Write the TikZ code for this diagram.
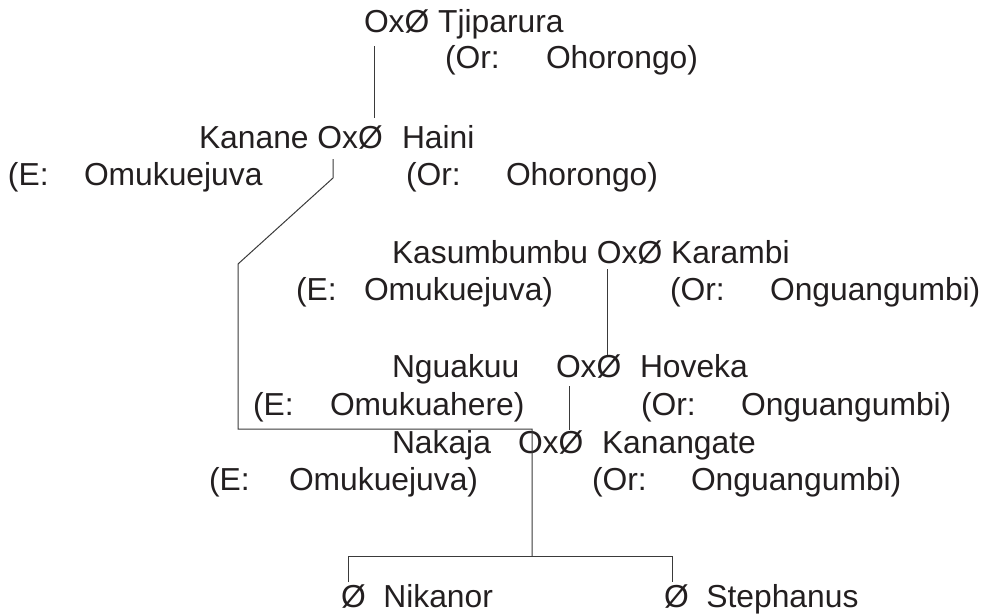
\documentclass[tikz,border=0pt]{standalone}
\usepackage{fontspec}
\setmainfont{Liberation Sans}
\definecolor{txt}{HTML}{231F20}
\definecolor{ln}{HTML}{3A3A3A}
\begin{document}
\begin{tikzpicture}[x=1pt,y=-1pt,
  lbl/.style={anchor=base west, inner sep=0pt, outer sep=0pt, text=txt, font=\fontsize{31.8}{36}\selectfont},
  conn/.style={draw=ln, line width=1pt}]
\useasboundingbox (0,0) rectangle (982,614);
% generation 1
\node[lbl] (t1) at (364,32) {OxØ Tjiparura};
\node[lbl] (t1a) at (445,68) {(Or:};
\node[lbl] (t1b) at (546,68) {Ohorongo)};
% generation 2
\node[lbl] (k1) at (199,148) {Kanane OxØ};
\node[lbl] (k2) at (402,148) {Haini};
\node[lbl] (k3) at (8,185) {(E:};
\node[lbl] (k4) at (84,185) {Omukuejuva};
\node[lbl] (k5) at (406,185) {(Or:};
\node[lbl] (k6) at (506,185) {Ohorongo)};
% Kasumbumbu
\node[lbl] (s1) at (392,263) {Kasumbumbu OxØ Karambi};
\node[lbl] (s4) at (296,300) {(E:};
\node[lbl] (s5) at (364,300) {Omukuejuva)};
\node[lbl] (s6) at (670,300) {(Or:};
\node[lbl] (s7) at (770,300) {Onguangumbi)};
% Nguakuu
\node[lbl] (n1) at (392,377) {Nguakuu};
\node[lbl] (n2) at (556,377) {OxØ};
\node[lbl] (n3) at (640,377) {Hoveka};
\node[lbl] (n4) at (253,415) {(E:};
\node[lbl] (n5) at (330,415) {Omukuahere)};
\node[lbl] (n6) at (641,415) {(Or:};
\node[lbl] (n7) at (741,415) {Onguangumbi)};
% Nakaja
\node[lbl] (m1) at (392,453) {Nakaja};
\node[lbl] (m2) at (518,453) {OxØ};
\node[lbl] (m3) at (602,453) {Kanangate};
\node[lbl] (m4) at (209,490) {(E:};
\node[lbl] (m5) at (289,490) {Omukuejuva)};
\node[lbl] (m6) at (592,490) {(Or:};
\node[lbl] (m7) at (691,490) {Onguangumbi)};
% children
\node[lbl] (c1) at (341,607) {Ø\ \ Nikanor};
\node[lbl] (c2) at (664,607) {Ø\ \ Stephanus};
% connector points
\coordinate (a1) at (374,46);
\coordinate (a2) at (374,118);
\coordinate (b1) at (333,159);
\coordinate (b2) at (333,178);
\coordinate (b3) at (238,264);
\coordinate (b4) at (238,429);
\coordinate (b5) at (532,429);
\coordinate (b6) at (532,556);
\coordinate (r1) at (607,269);
\coordinate (r2) at (607,355);
\coordinate (h1) at (569,386);
\coordinate (h2) at (569,430);
\coordinate (d1) at (348,556);
\coordinate (d2) at (672,556);
\coordinate (e1) at (348,582);
\coordinate (e2) at (672,582);
\draw[conn] (a1) -- (a2);
\draw[conn] (b1) -- (b2) -- (b3) -- (b4) -- (b5) -- (b6);
\draw[conn] (r1) -- (r2);
\draw[conn] (h1) -- (h2);
\draw[conn] (e1) -- (d1) -- (d2) -- (e2);
\end{tikzpicture}
\end{document}
